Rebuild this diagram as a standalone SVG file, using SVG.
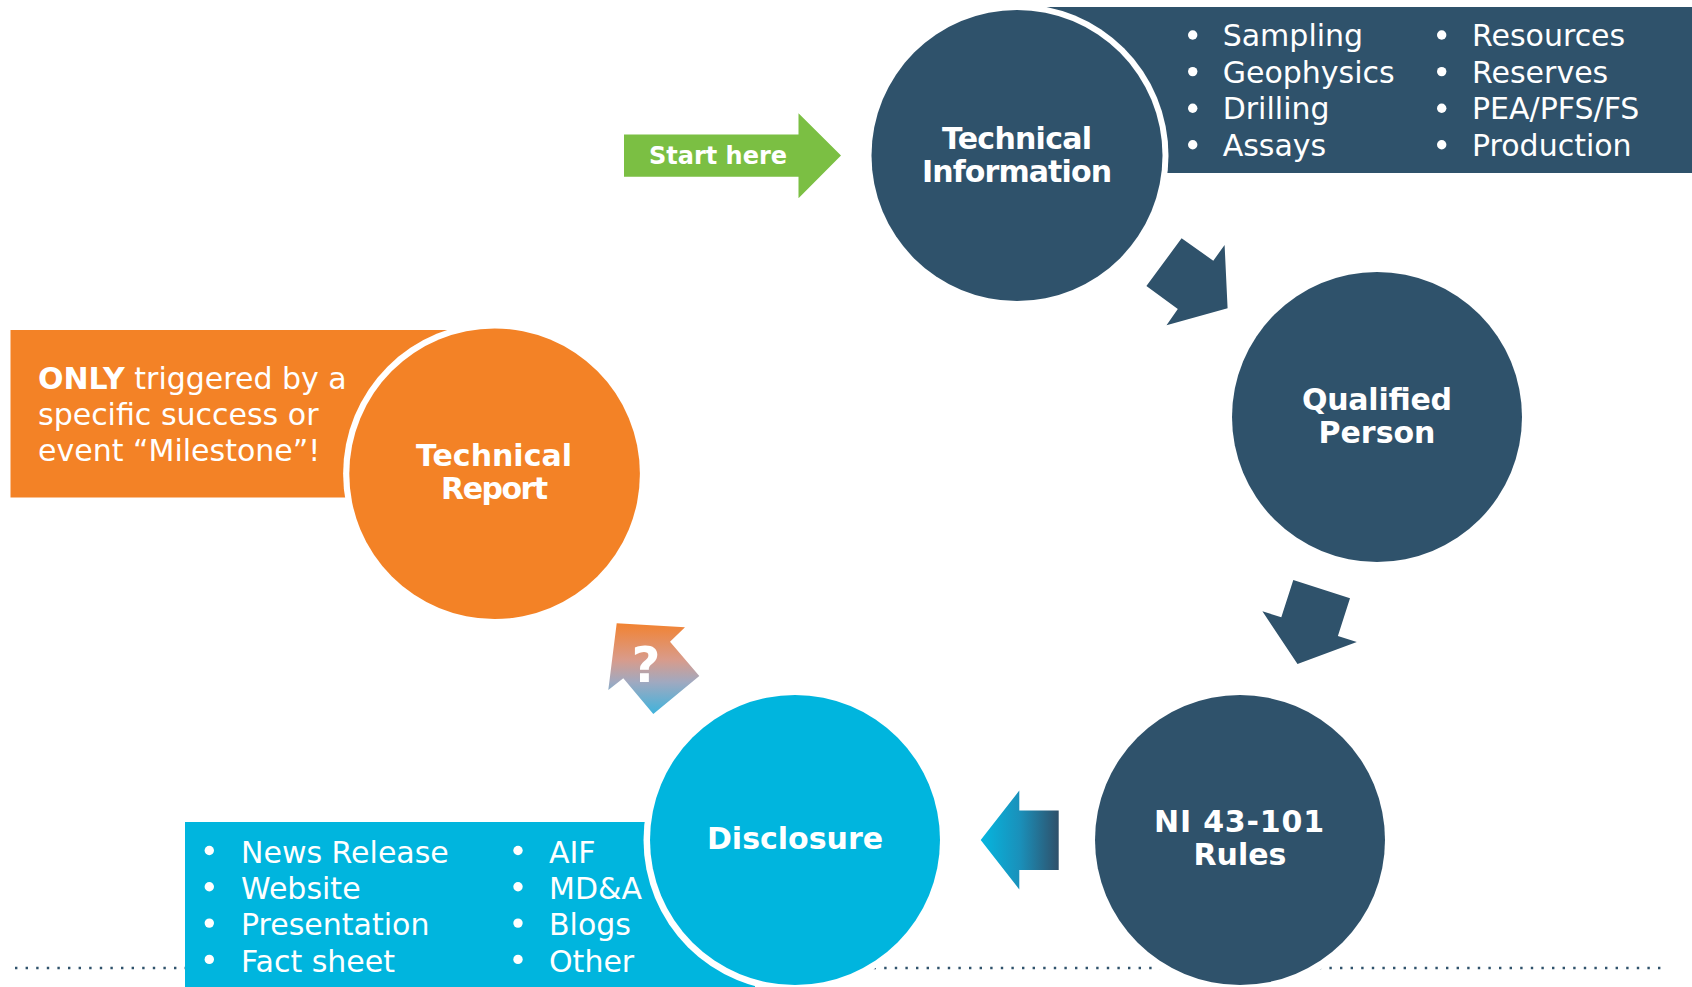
<svg xmlns="http://www.w3.org/2000/svg" width="1692" height="987" viewBox="0 0 1692 987">
<defs>
<linearGradient id="gq" x1="0" y1="623" x2="0" y2="714" gradientUnits="userSpaceOnUse">
<stop offset="0" stop-color="#F28230"/>
<stop offset="0.4" stop-color="#D99B8A"/>
<stop offset="0.65" stop-color="#A0A9C0"/>
<stop offset="1" stop-color="#3FB3DC"/>
</linearGradient>
<linearGradient id="gl" x1="981" y1="0" x2="1059" y2="0" gradientUnits="userSpaceOnUse">
<stop offset="0" stop-color="#05B6DF"/>
<stop offset="0.5" stop-color="#1A90BA"/>
<stop offset="1" stop-color="#2F4F69"/>
</linearGradient>
<style>
.dark{fill:#2F526B}
.cyan{fill:#00B5DE}
.orange{fill:#F38226}
.ring{fill:#FFFFFF}
.dot{fill:#FFFFFF}
.lbl{font-family:"DejaVu Sans",Verdana,sans-serif;font-weight:bold;font-size:30px;fill:#FFFFFF;text-anchor:middle}
.lst{font-family:"DejaVu Sans",Verdana,sans-serif;font-size:30px;fill:#FFFFFF}
</style>
</defs>
<rect width="1692" height="987" fill="#FFFFFF"/>

<g id="separator">
<line x1="15" y1="968" x2="1662" y2="968" stroke="#2F526B" stroke-width="2.4" stroke-dasharray="2.4 8.2"/>
</g>

<g id="node-technical-information">
<rect class="dark" x="1040" y="7" width="652" height="166"/>
<circle class="ring" cx="1017" cy="155.5" r="151.5"/>
<circle class="dark" cx="1017" cy="155.5" r="145.5"/>
<text class="lbl"><tspan x="1017" y="148.5" textLength="150">Technical</tspan><tspan x="1017" y="181.7" textLength="190">Information</tspan></text>
<g class="dot">
<circle cx="1192.7" cy="35" r="4.7"/><circle cx="1192.7" cy="71.6" r="4.7"/><circle cx="1192.7" cy="108.2" r="4.7"/><circle cx="1192.7" cy="144.8" r="4.7"/>
<circle cx="1441.7" cy="35" r="4.7"/><circle cx="1441.7" cy="71.6" r="4.7"/><circle cx="1441.7" cy="108.2" r="4.7"/><circle cx="1441.7" cy="144.8" r="4.7"/>
</g>
<g class="lst">
<text x="1222.7" y="46">Sampling</text>
<text x="1222.7" y="82.6">Geophysics</text>
<text x="1222.7" y="119.2">Drilling</text>
<text x="1222.7" y="155.8">Assays</text>
<text x="1472" y="46">Resources</text>
<text x="1472" y="82.6">Reserves</text>
<text x="1472" y="119.2">PEA/PFS/FS</text>
<text x="1472" y="155.8">Production</text>
</g>
</g>

<g id="node-qualified-person">
<circle class="dark" cx="1377" cy="417" r="145"/>
<text class="lbl"><tspan x="1377" y="410" textLength="150">Qualified</tspan><tspan x="1377" y="442.5">Person</tspan></text>
</g>

<g id="node-ni-43-101">
<circle class="ring" cx="1240" cy="840" r="152.5"/>
<circle class="dark" cx="1240" cy="840" r="145"/>
<text class="lbl"><tspan x="1239" y="832" textLength="170">NI 43-101</tspan><tspan x="1240" y="865">Rules</tspan></text>
</g>

<g id="node-disclosure">
<rect class="cyan" x="185" y="822" width="570" height="165"/>
<circle class="ring" cx="795" cy="840" r="151.5"/>
<circle class="cyan" cx="795" cy="840" r="145"/>
<text class="lbl" x="795" y="849.3">Disclosure</text>
<g class="dot">
<circle cx="209.3" cy="850.5" r="4.7"/><circle cx="209.3" cy="886.8" r="4.7"/><circle cx="209.3" cy="923.1" r="4.7"/><circle cx="209.3" cy="959.4" r="4.7"/>
<circle cx="518" cy="850.5" r="4.7"/><circle cx="518" cy="886.8" r="4.7"/><circle cx="518" cy="923.1" r="4.7"/><circle cx="518" cy="959.4" r="4.7"/>
</g>
<g class="lst">
<text x="241" y="862.7">News Release</text>
<text x="241" y="899">Website</text>
<text x="241" y="935.3">Presentation</text>
<text x="241" y="971.6">Fact sheet</text>
<text x="549" y="862.7">AIF</text>
<text x="549" y="899">MD&amp;A</text>
<text x="549" y="935.3">Blogs</text>
<text x="549" y="971.6">Other</text>
</g>
</g>

<g id="node-technical-report">
<rect class="orange" x="10.5" y="330" width="460" height="167.5"/>
<circle class="ring" cx="494.6" cy="473.8" r="151.5"/>
<circle class="orange" cx="494.6" cy="473.8" r="145.3"/>
<text class="lbl"><tspan x="494" y="465.5">Technical</tspan><tspan x="494.6" y="498.5" textLength="107">Report</tspan></text>
<g class="lst">
<text x="38" y="389"><tspan font-weight="bold">ONLY</tspan> triggered by a</text>
<text x="38" y="425">specific success or</text>
<text x="38" y="461">event “Milestone”!</text>
</g>
</g>

<g id="start-here">
<polygon fill="#7BBF43" points="624,134.5 798.5,134.5 798.5,113.3 841,155.6 798.5,198.2 798.5,176.7 624,176.7"/>
<text x="718" y="164.3" font-family="'DejaVu Sans',Verdana,sans-serif" font-weight="bold" font-size="24" fill="#FFFFFF" text-anchor="middle">Start here</text>
</g>

<g id="connectors">
<polygon class="dark" points="1181.6,238.3 1213.3,260.7 1224.6,245 1227.6,308.3 1166.5,325.3 1177.8,309 1146.4,286"/>
<polygon class="dark" points="1293.3,580 1350,598.3 1337.9,636 1356.8,642 1297.5,664 1262.4,611.3 1281.3,617.3"/>
<polygon fill="url(#gl)" points="980.7,840 1019.3,790.5 1019.3,810.5 1058.7,810.5 1058.7,870 1019.3,870 1019.3,889.5"/>
<polygon fill="url(#gq)" points="616.7,623.3 685,627.3 670,641.7 699.3,676 653.3,714 623.3,678.3 608.3,690"/>
<text x="646" y="681.5" font-family="'DejaVu Sans',Verdana,sans-serif" font-weight="bold" font-size="50" fill="#FFFFFF" text-anchor="middle">?</text>
</g>
</svg>
